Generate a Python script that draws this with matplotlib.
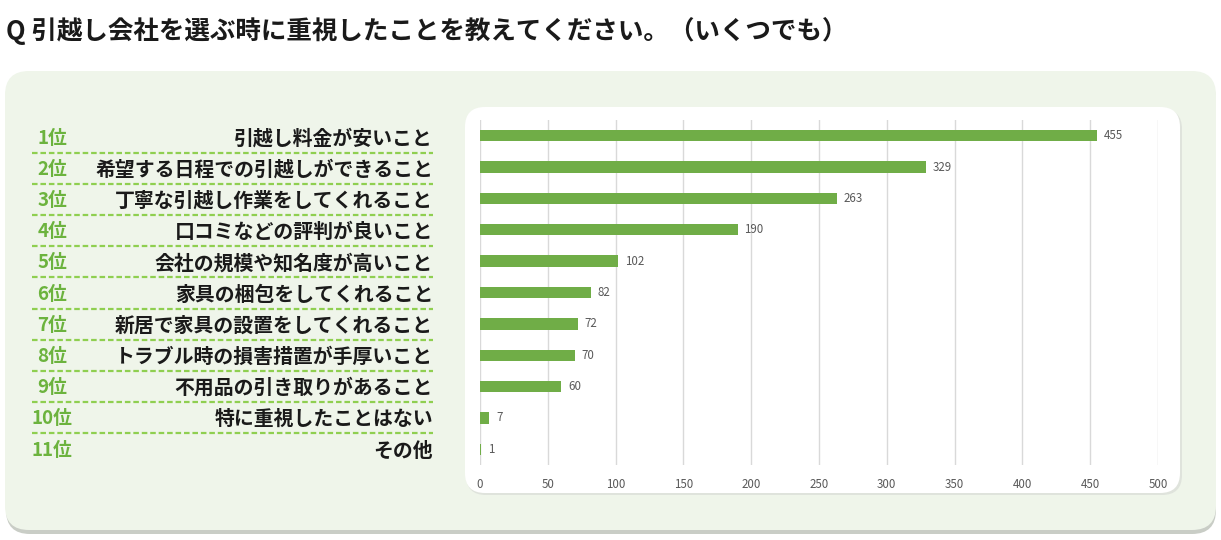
import numpy as np
import matplotlib.pyplot as plt
from matplotlib.patches import FancyBboxPatch

plt.rcParams['font.family'] = ['Noto Sans CJK JP', 'DejaVu Sans']

#-------------------------------------------------------------
# Data
#-------------------------------------------------------------
title = "Q 引越し会社を選ぶ時に重視したことを教えてください。（いくつでも）"
ranks = ["1位", "2位", "3位", "4位", "5位", "6位", "7位", "8位", "9位", "10位", "11位"]
items = ["引越し料金が安いこと",
         "希望する日程での引越しができること",
         "丁寧な引越し作業をしてくれること",
         "口コミなどの評判が良いこと",
         "会社の規模や知名度が高いこと",
         "家具の梱包をしてくれること",
         "新居で家具の設置をしてくれること",
         "トラブル時の損害措置が手厚いこと",
         "不用品の引き取りがあること",
         "特に重視したことはない",
         "その他"]
counts = [455, 329, 263, 190, 102, 82, 72, 70, 60, 7, 1]
xticks = [0, 50, 100, 150, 200, 250, 300, 350, 400, 450, 500]

green = '#70ad47'
rank_green = '#6cb33e'
W, H = 1221, 540

fig = plt.figure(figsize=(W/100, H/100), dpi=100)
fig.patch.set_facecolor('white')

# background layer in pixel coords
bg = fig.add_axes([0, 0, 1, 1], zorder=0)
bg.set_xlim(0, W)
bg.set_ylim(H, 0)
bg.axis('off')

# outer panel + shadow
bg.add_patch(FancyBboxPatch((6, 76), 1210, 458, boxstyle="round,pad=0,rounding_size=24",
                            fc='#c9cdc6', ec='none'))
bg.add_patch(FancyBboxPatch((5, 71), 1211, 459, boxstyle="round,pad=0,rounding_size=24",
                            fc='#eff5ea', ec='none'))
# inner white panel
bg.add_patch(FancyBboxPatch((466, 109), 716, 386, boxstyle="round,pad=0,rounding_size=20",
                            fc='#dfe3dc', ec='none'))
bg.add_patch(FancyBboxPatch((465, 107), 715, 386, boxstyle="round,pad=0,rounding_size=20",
                            fc='white', ec='none'))

bg.text(6, 31, title, fontsize=18.4, fontweight='bold', color='#1a1a1a', va='center', ha='left')

# left side labels
row_y = 137
step = 31.2
for i, (rk, it) in enumerate(zip(ranks, items)):
    y = row_y + i*step
    bg.text(52, y + 1, rk, fontsize=13.5, fontweight='bold', color=rank_green, ha='center', va='center')
    bg.text(433, y + 1, it, fontsize=14.3, fontweight='bold', color='#1a1a1a', ha='right', va='center')
    if i < len(ranks) - 1:
        yl = y + step/2
        bg.plot([32, 433], [yl, yl], color='#8fcf50', lw=1.6, ls=(0, (2.5, 1.3)))

#-------------------------------------------------------------
# Bar chart
#-------------------------------------------------------------
ax = fig.add_axes([480/W, 1-465/H, 678/W, 345/H], zorder=1)
ax.patch.set_alpha(0)
pos = np.arange(len(counts))
ax.barh(pos, counts, height=0.36, color=green, zorder=2)
for p, v in zip(pos, counts):
    ax.text(v + 5, p, str(v), fontsize=8.3, color='#595959', va='center', ha='left')

ax.set_xlim(0, 500)
ax.set_ylim(len(counts) - 0.5, -0.5)
ax.set_xticks(xticks)
ax.set_yticks([])
ax.tick_params(axis='x', length=0, labelsize=8.3, labelcolor='#595959', pad=9)
ax.grid(axis='x', color='#d9d9d9', lw=1, zorder=0)
for s in ax.spines.values():
    s.set_visible(False)

plt.savefig('out.png', dpi=100)
